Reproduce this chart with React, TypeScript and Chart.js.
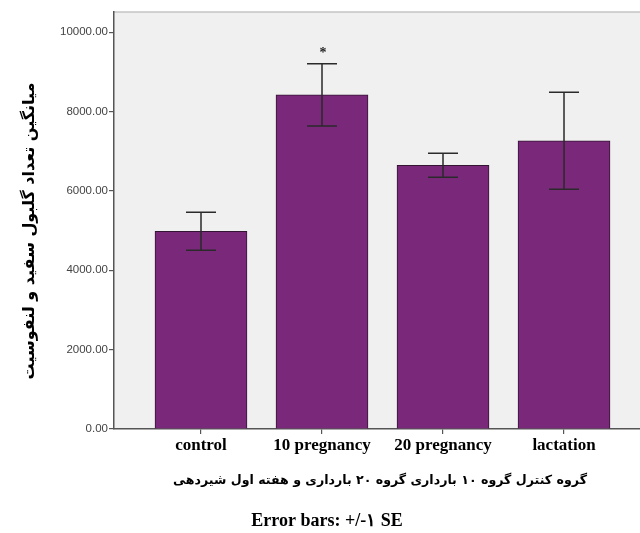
import React, { useEffect, useRef } from "react";
import { Chart, registerables } from "chart.js";

Chart.register(...registerables);

const categories = ["control", "10 pregnancy", "20 pregnancy", "lactation"];
const means = [4985, 8420, 6645, 7265];
const stdErrors = [480, 783, 303, 1222];
const sigMarks = ["", "*", "", ""];
const yTicks = [0, 2000, 4000, 6000, 8000, 10000];
const yTitle = "میانگین تعداد گلبول سفید و لنفوسیت";
const xTitle = "گروه کنترل گروه ۱۰ بارداری گروه ۲۰ بارداری و هفته اول شیردهی";
const footnote = "Error bars: +/-۱ SE";

export default function App() {
  const ref = useRef<HTMLCanvasElement | null>(null);
  useEffect(() => {
    if (!ref.current) return;
    const bgPlugin = {
      id: "bgPlugin",
      beforeDraw(chart: any) {
        const { ctx, chartArea: a } = chart;
        ctx.save();
        ctx.fillStyle = "#f0f0f0";
        ctx.fillRect(a.left, a.top, a.right - a.left, a.bottom - a.top);
        ctx.strokeStyle = "#c4c4c4";
        ctx.lineWidth = 1.5;
        ctx.beginPath();
        ctx.moveTo(a.left, a.top);
        ctx.lineTo(a.right, a.top);
        ctx.stroke();
        ctx.restore();
      },
    };
    const errPlugin = {
      id: "errPlugin",
      afterDatasetsDraw(chart: any) {
        const { ctx, scales } = chart;
        const xs = scales.x;
        const ys = scales.y;
        ctx.save();
        ctx.strokeStyle = "#2a2a2a";
        ctx.lineWidth = 1.5;
        means.forEach((m, i) => {
          const x = xs.getPixelForValue(i);
          const yt = ys.getPixelForValue(m + stdErrors[i]);
          const yb = ys.getPixelForValue(m - stdErrors[i]);
          ctx.beginPath();
          ctx.moveTo(x, yt);
          ctx.lineTo(x, yb);
          ctx.moveTo(x - 15, yt);
          ctx.lineTo(x + 15, yt);
          ctx.moveTo(x - 15, yb);
          ctx.lineTo(x + 15, yb);
          ctx.stroke();
          if (sigMarks[i]) {
            ctx.fillStyle = "#222";
            ctx.font = "bold 14px 'Liberation Serif'";
            ctx.textAlign = "center";
            ctx.textBaseline = "middle";
            ctx.fillText(sigMarks[i], x + 1, yt - 10);
          }
        });
        ctx.restore();
      },
      afterDraw(chart: any) {
        const { ctx } = chart;
        ctx.save();
        ctx.fillStyle = "#000";
        ctx.textAlign = "center";
        ctx.textBaseline = "middle";
        ctx.font = "bold 16px 'DejaVu Sans'";
        ctx.translate(30, 231);
        ctx.rotate(-Math.PI / 2);
        ctx.fillText(yTitle, 0, 0);
        ctx.restore();
        ctx.save();
        ctx.fillStyle = "#000";
        ctx.textAlign = "center";
        ctx.textBaseline = "middle";
        ctx.font = "bold 12.6px 'DejaVu Sans'";
        ctx.fillText(xTitle, 380, 481);
        ctx.font = "bold 18px 'Liberation Serif'";
        ctx.fillText(footnote, 327, 521);
        ctx.restore();
      },
    };
    const chart = new Chart(ref.current, {
      type: "bar",
      data: {
        datasets: [
          {
            data: means.map((v, i) => ({ x: i, y: v })),
            backgroundColor: "#7a287a",
            borderColor: "#331433",
            borderWidth: 1,
            barThickness: 92,
          } as any,
        ],
      },
      plugins: [bgPlugin, errPlugin],
      options: {
        animation: false,
        responsive: true,
        maintainAspectRatio: false,
        layout: { padding: { top: 12, left: 0, right: 0, bottom: 0 } },
        plugins: { legend: { display: false }, tooltip: { enabled: false } },
        scales: {
          x: {
            type: "linear",
            offset: false,
            min: -0.719,
            max: 3.628,
            afterFit: (s: any) => {
              s.height = 104;
            },
            afterBuildTicks: (s: any) => {
              s.ticks = categories.map((_, i) => ({ value: i }));
            },
            grid: {
              display: true,
              offset: false,
              drawOnChartArea: false,
              drawTicks: true,
              tickLength: 5,
              color: "#555",
              lineWidth: 1.2,
            },
            border: { display: true, color: "#555", width: 1.5 },
            ticks: {
              padding: 1,
              color: "#000",
              font: { family: "'Liberation Serif'", size: 17, weight: "bold" },
              callback: (v: any) => categories[v as number] ?? "",
              maxRotation: 0,
              autoSkip: false,
            },
          },
          y: {
            min: 0,
            max: 10510,
            afterFit: (s: any) => {
              s.width = 114;
            },
            afterBuildTicks: (s: any) => {
              s.ticks = yTicks.map((v) => ({ value: v }));
            },
            grid: {
              display: true,
              drawOnChartArea: false,
              drawTicks: true,
              tickLength: 5,
              color: "#555",
              lineWidth: 1.2,
            },
            border: { display: true, color: "#555", width: 1.5 },
            ticks: {
              padding: 1,
              color: "#444",
              font: { family: "'Liberation Sans'", size: 11.5 },
              callback: (v: any) => Number(v).toFixed(2),
            },
          },
        },
      },
    });
    return () => chart.destroy();
  }, []);
  return (
    <div style={{ position: "absolute", left: 0, top: 0, width: 640, height: 533, background: "#fff" }}>
      <canvas ref={ref} />
    </div>
  );
}
